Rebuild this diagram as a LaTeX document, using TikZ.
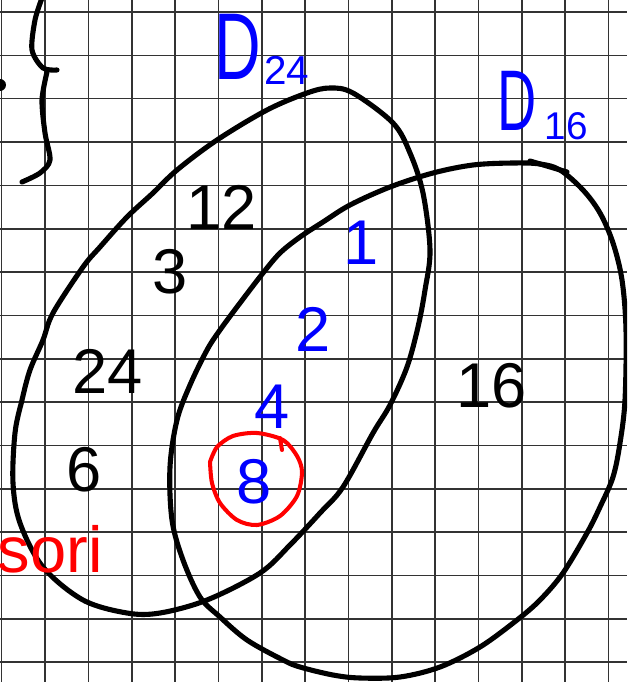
\documentclass[tikz,border=0pt]{standalone}
\usepackage{fontspec}
\setmainfont{Liberation Sans}
\usetikzlibrary{calc}

\begin{document}
\begin{tikzpicture}[x=0.02cm,y=-0.02cm,
  quad/.style={black!80,line width=0.9pt},
  pen/.style={black,line width=2.9pt,line cap=round,line join=round},
  num/.style={inner sep=0pt,font=\fontsize{36}{36}\selectfont},
  lettera/.style={inner sep=0pt,blue,font=\fontsize{54}{54}\selectfont},
  pedice/.style={inner sep=0pt,blue,font=\fontsize{23}{23}\selectfont}]
\clip (0,0) rectangle (627,682);
\fill[white] (0,0) rectangle (627,682);
% Quadretti
\foreach \i in {0,...,14}
  \draw[quad] ({1.7+43.35*\i},0) -- ++(0,682);
\foreach \j in {0,...,15}
  \draw[quad] (0,{12+43.35*\j}) -- ++(627,0);
% Parentesi graffa
\fill (0,85) circle (6);
\draw[pen] plot[smooth] coordinates {(42,-2) (35,20) (32,50) (43,68) (57,70)};
\draw[pen] plot[smooth] coordinates {(47,72) (42,100) (45,133) (50,160) (40,173) (22,182)};
% Insieme D24
\draw[pen] plot[smooth cycle,tension=0.55] coordinates {
  (330,88) (353,93) (393,123) (410,153) (423,193) (430,250) (425,290)
  (418,327) (407,367) (390,405) (373,433) (343,487) (320,513) (290,545)
  (260,573) (207,600) (160,613) (127,613) (83,600) (43,567) (20,523)
  (13,483) (15,433) (22,400) (30,370) (43,340) (53,313) (83,267)
  (100,247) (127,217) (153,193) (177,170) (217,140) (267,110) (307,93)};
% Insieme D16
\draw[pen] plot[smooth cycle,tension=0.55] coordinates {
  (473,165) (513,163) (540,164) (560,170) (583,190) (600,213) (613,243)
  (622,280) (626,330) (625,400) (620,443) (613,477) (600,507) (587,533)
  (563,573) (540,600) (517,620) (480,647) (440,667) (400,677) (360,678)
  (333,675) (300,667) (283,660) (247,640) (220,617) (200,597) (183,560)
  (172,520) (170,467) (177,420) (190,385) (207,350) (220,330) (240,303)
  (263,273) (280,253) (300,237) (323,222) (350,205) (390,187) (433,173)};
\draw[pen] (530,161) -- (567,172);
% Nomi degli insiemi
\node[lettera] (d24) at (238,47) {\scalebox{0.68}[1]{D}};
\node[pedice] (d24sub) at (287,70) {24};
\node[lettera,font=\fontsize{49}{49}\selectfont] (d16) at (517,101) {\scalebox{0.63}[1]{D}};
\node[pedice,font=\fontsize{22}{22}\selectfont] (d16sub) at (566,126) {16};
% Elementi
\node[num] (n12) at (222,207) {12};
\node[num] (n3) at (170,272) {3};
\node[num] (n24) at (108,371) {24};
\node[num] (n6) at (84,470) {6};
\node[num] (n16) at (492,386) {16};
\node[num,blue] (n1) at (361,243) {1};
\node[num,blue] (n2) at (313,329) {2};
\node[num,blue] (n4) at (272,407) {4};
\node[num,blue] (n8) at (254,482) {8};
% Cerchio rosso
\draw[red,line width=2.3pt,line cap=round,line join=round] plot[smooth] coordinates {
  (210,462) (217,447) (233,436) (257,433) (283,440) (297,456) (302,472)
  (297,496) (280,516) (257,525) (237,520) (220,503) (212,483) (210,462)};
\draw[red,line width=2.3pt,line cap=round] (280,438) -- (282,450);
\node[red,inner sep=0pt,anchor=base east,font=\fontsize{37}{37}\selectfont] (sori) at (103,572) {sori};
\end{tikzpicture}
\end{document}
